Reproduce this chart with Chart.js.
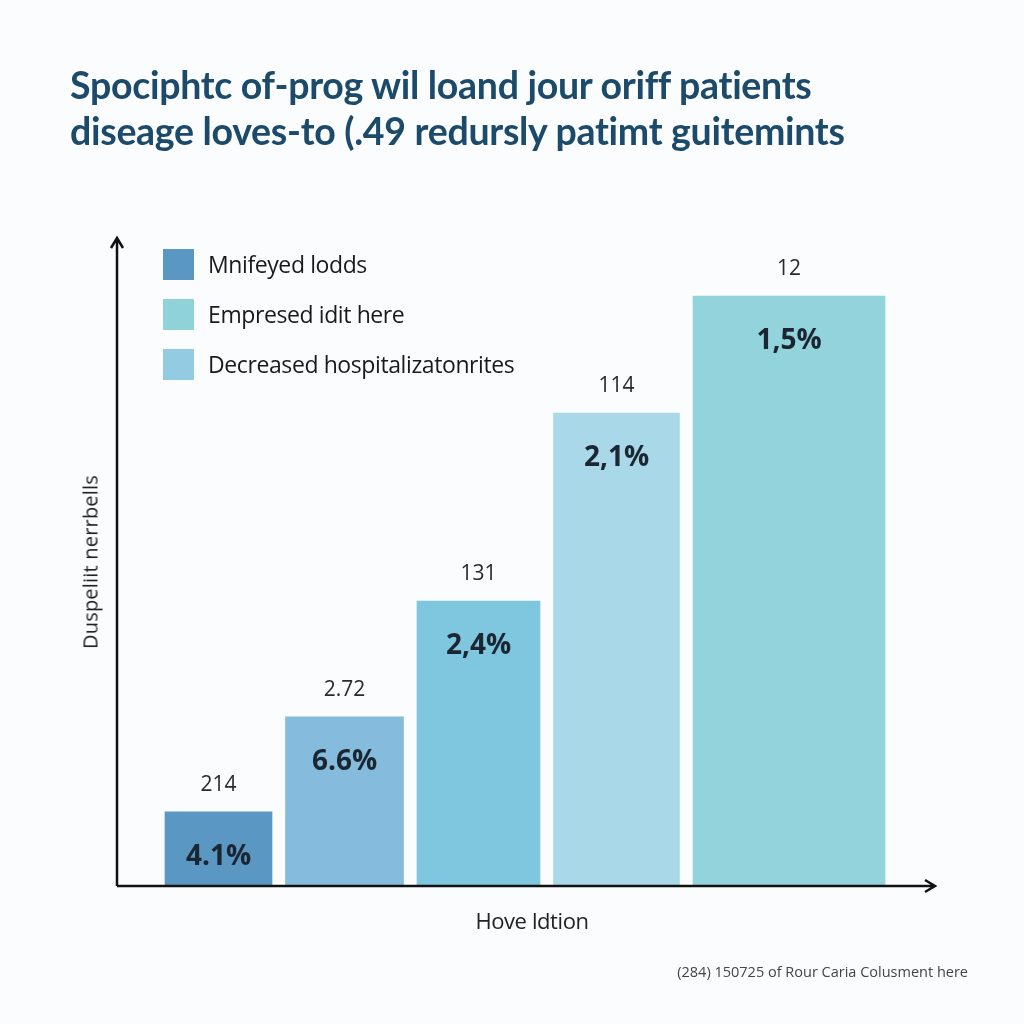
<!DOCTYPE html>
<html>
<head>
<meta charset="utf-8">
<script src="https://cdn.jsdelivr.net/npm/chart.js@4.4.1/dist/chart.umd.min.js"></script>
<style>
  html, body { margin: 0; padding: 0; background: #fbfcfd; }
  #wrap { position: relative; width: 1024px; height: 1024px; overflow: hidden; }
  canvas { position: absolute; left: 0; top: 0; }
  .title {
    position: absolute; left: 70px; top: 62px;
    font-family: Lato, "Open Sans", sans-serif; font-weight: 700;
    font-size: 37.5px; line-height: 46px; color: #1c4a6a; letter-spacing: -0.3px;
  }
  .legend { position: absolute; left: 163px; top: 249px; font-family: "Open Sans", sans-serif; }
  .legend div { height: 50px; display: flex; align-items: flex-start; font-size: 23px; color: #1a1a1a; letter-spacing: -0.4px; line-height: 31px; }
  .legend span.sw { display: inline-block; width: 31px; height: 31px; margin-right: 14px; }
  .ylab {
    position: absolute; left: 90px; top: 562px; transform: translate(-50%, -50%) rotate(-90deg);
    font-family: "Open Sans", sans-serif; font-size: 20px; color: #222; white-space: nowrap; letter-spacing: 0.2px;
  }
  .xlab {
    position: absolute; left: 532px; top: 920px; transform: translate(-50%, -50%);
    font-family: "Open Sans", sans-serif; font-size: 22px; color: #222; white-space: nowrap; letter-spacing: -0.4px;
  }
  .note {
    position: absolute; right: 56px; top: 962px;
    font-family: "Open Sans", sans-serif; font-size: 14.5px; color: #444; white-space: nowrap;
  }
</style>
</head>
<body>
<div id="wrap">
  <canvas id="chart" width="1024" height="1024"></canvas>
  <div class="title">Spociphtc of-prog wil loand jour oriff patients<br>diseage loves-to (.49 redursly patimt guitemints</div>
  <div class="legend" id="legend"></div>
  <div class="ylab">Duspeliit nerrbells</div>
  <div class="xlab">Hove ldtion</div>
  <div class="note">(284) 150725 of Rour Caria Colusment here</div>
</div>
<script>
// data
const categories = ["A", "B", "C", "D", "E"];
const heights = [11.5, 26.2, 44.1, 73.2, 91.3];
const topLabels = ["214", "2.72", "131", "114", "12"];
const innerLabels = ["4.1%", "6.6%", "2,4%", "2,1%", "1,5%"];
const legendNames = ["Mnifeyed lodds", "Empresed idit here", "Decreased hospitalizatonrites"];

// styles: colours, bar widths (px), gap between bars, space before the first bar
const barColors = ["#5b97c3", "#85bbdc", "#7fc6df", "#a9d9e9", "#93d3db"];
const barWidths = [107, 118, 123, 126, 192];
const barGap = 13.5;
const leadSpace = 48;

const legendColors = ["#5b97c3", "#8fd3d8", "#93cbe2"];
const legend = document.getElementById("legend");
legendNames.forEach((name, i) => {
    const row = document.createElement("div");
    row.innerHTML = `<span class="sw" style="background:${legendColors[i]}"></span>${name}`;
    legend.appendChild(row);
});

// slot centres follow from the widths, so bars can differ in width
let cursor = leadSpace;
const slots = barWidths.map(w => {
    const c = cursor + w / 2;
    cursor += w + barGap;
    return c;
});

const datasets = heights.map((h, i) => ({
    label: categories[i],
    data: [{ x: slots[i], y: h }],
    backgroundColor: barColors[i],
    barThickness: barWidths[i],
    grouped: false
}));

const axesAndLabels = {
    id: "axesAndLabels",
    afterDatasetsDraw(chart) {
        const ctx = chart.ctx;
        const area = chart.chartArea;
        const x0 = area.left;
        const y0 = area.bottom;
        ctx.save();
        ctx.strokeStyle = "#111";
        ctx.lineWidth = 2.5;
        ctx.beginPath();
        ctx.moveTo(x0, y0);
        ctx.lineTo(x0, area.top - 2);
        ctx.moveTo(x0 - 6, area.top + 8);
        ctx.lineTo(x0, area.top - 2);
        ctx.lineTo(x0 + 6, area.top + 8);
        ctx.moveTo(x0, y0);
        ctx.lineTo(area.right, y0);
        ctx.moveTo(area.right - 10, y0 - 6);
        ctx.lineTo(area.right, y0);
        ctx.lineTo(area.right - 10, y0 + 6);
        ctx.stroke();

        ctx.textAlign = "center";
        ctx.textBaseline = "middle";
        chart.data.datasets.forEach((ds, i) => {
            const bar = chart.getDatasetMeta(i).data[0];
            ctx.fillStyle = "#2a2a2a";
            ctx.font = "21px 'Open Sans', sans-serif";
            ctx.fillText(topLabels[i], bar.x, bar.y - 27);
            ctx.fillStyle = "#1b2633";
            ctx.font = "bold 28px 'Open Sans', sans-serif";
            ctx.fillText(innerLabels[i], bar.x, bar.y + 45);
        });
        ctx.restore();
    }
};

new Chart(document.getElementById("chart"), {
    type: "bar",
    data: { datasets: datasets },
    options: {
        responsive: false,
        animation: false,
        layout: { padding: { left: 117, right: 89, top: 240, bottom: 138 } },
        plugins: { legend: { display: false }, tooltip: { enabled: false } },
        scales: {
            x: { type: "linear", display: false, offset: false, min: 0, max: 818 },
            y: { display: false, min: 0, max: 100 }
        }
    },
    plugins: [axesAndLabels]
});
</script>
</body>
</html>
